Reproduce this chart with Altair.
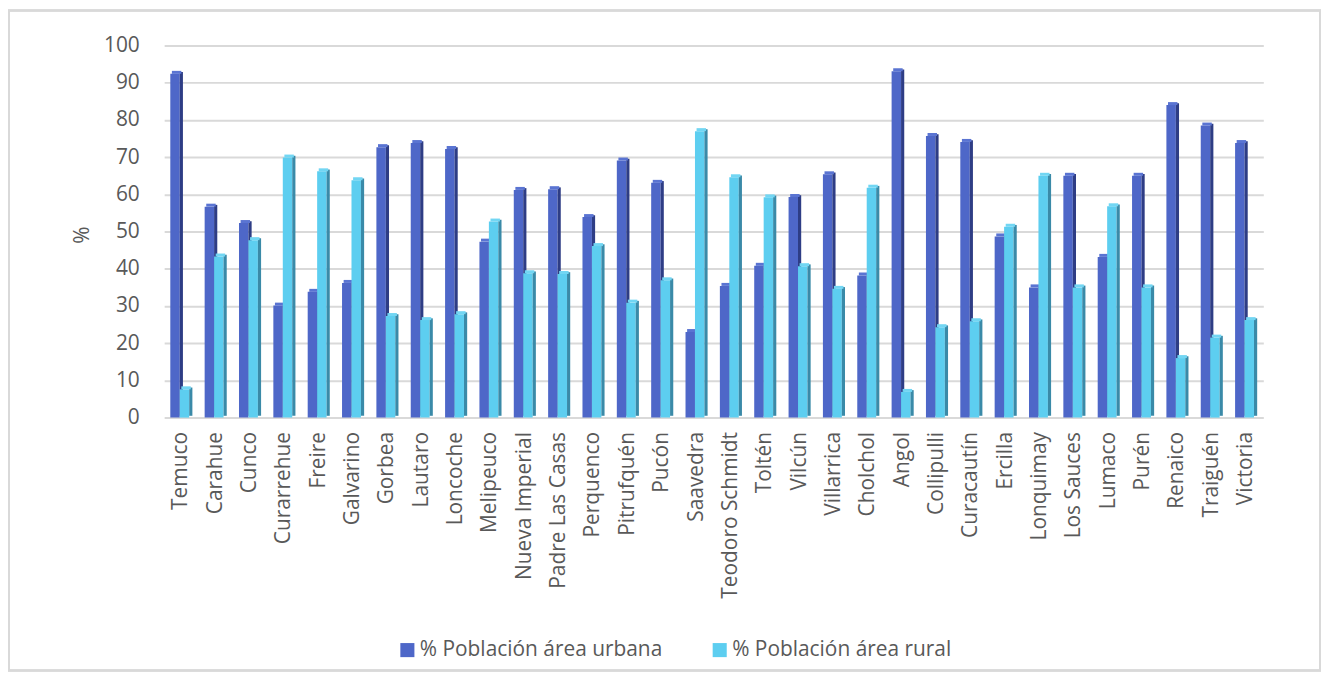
import altair as alt
import pandas as pd

comunas = ["Temuco", "Carahue", "Cunco", "Curarrehue", "Freire", "Galvarino", "Gorbea",
           "Lautaro", "Loncoche", "Melipeuco", "Nueva Imperial", "Padre Las Casas",
           "Perquenco", "Pitrufquén", "Pucón", "Saavedra", "Teodoro Schmidt", "Toltén",
           "Vilcún", "Villarrica", "Cholchol", "Angol", "Collipulli", "Curacautín",
           "Ercilla", "Lonquimay", "Los Sauces", "Lumaco", "Purén", "Renaico",
           "Traiguén", "Victoria"]
urbana = [92.4, 56.7, 52.3, 30.1, 33.8, 36.2, 72.7, 73.8, 72.2, 47.3, 61.2, 61.4,
          53.9, 69.1, 63.1, 23.0, 35.4, 40.8, 59.3, 65.4, 38.2, 93.1, 75.7, 74.1,
          48.7, 35.0, 65.0, 43.2, 65.0, 84.0, 78.5, 73.8]
rural = [7.6, 43.3, 47.7, 69.9, 66.2, 63.8, 27.3, 26.2, 27.8, 52.7, 38.8, 38.6,
         46.1, 30.9, 36.9, 77.0, 64.6, 59.2, 40.7, 34.6, 61.8, 6.9, 24.3, 25.9,
         51.3, 65.0, 35.0, 56.8, 35.0, 16.0, 21.5, 26.2]
series = ["% Población área urbana", "% Población área rural"]
front_colors = ["#4E67C8", "#5DCEF0"]
side_colors = ["#2E3D85", "#3A8AA8"]
top_colors = ["#5A74D2", "#72D6F3"]

n = min(len(comunas), len(urbana), len(rural))
df_u = pd.DataFrame({"comuna": comunas[:n], "valor": urbana[:n], "serie": series[0]})
df_r = pd.DataFrame({"comuna": comunas[:n], "valor": rural[:n], "serie": series[1]})

FONT = "Open Sans"
TXT = "#595959"
FS = 21
W, H = 1105, 374
PAD_L, PAD_T = 157, 36
TOT_W, TOT_H = 1320, 665

x_enc = alt.X("comuna:N", sort=comunas[:n], title=None,
              scale=alt.Scale(paddingInner=0.47, paddingOuter=0.235),
              axis=alt.Axis(labelAngle=-90, labelFontSize=FS, labelColor=TXT,
                            labelFont=FONT, labelPadding=14, ticks=False,
                            domain=False, grid=False, labelAlign="right",
                            labelBaseline="middle", labelOverlap=False))
y_scale = alt.Scale(domain=[0, 100], nice=False)
y_enc = alt.Y("valor:Q", scale=y_scale, title="%",
              axis=alt.Axis(values=list(range(0, 101, 10)), labelFontSize=FS,
                            labelColor=TXT, labelFont=FONT, labelPadding=25,
                            ticks=False, domain=False, grid=True,
                            gridColor="#D9D9D9", gridWidth=2, labelOverlap=False,
                            titleFont=FONT, titleFontSize=FS,
                            titleFontWeight="normal", titleColor=TXT,
                            titleAngle=-90, titleX=-72, titleY=190))

color_enc = alt.Color("serie:N", scale=alt.Scale(domain=series, range=front_colors),
                      title=None,
                      legend=alt.Legend(orient="none", direction="horizontal",
                                        legendX=234, legendY=597,
                                        symbolType="square", symbolSize=200,
                                        symbolStrokeWidth=0, labelFontSize=FS,
                                        labelFont=FONT, labelColor=TXT,
                                        labelOffset=2, columnPadding=47,
                                        labelLimit=400))

def layers(d, i, front_off):
    front = alt.Chart(d).mark_bar(width=9.5, xOffset=front_off).encode(
        x=x_enc, y=y_enc, color=color_enc)
    side = alt.Chart(d).mark_bar(width=3.2, xOffset=front_off + 6.35,
                                 yOffset=-1.8, color=side_colors[i]).encode(
        x=x_enc, y=y_enc)
    top = alt.Chart(d).mark_tick(thickness=3, size=9.5, xOffset=front_off + 1.6,
                                 yOffset=-1.5, color=top_colors[i],
                                 opacity=1).encode(
        x=x_enc, y=y_enc)
    return [front, side, top]

frame = alt.Chart(df_u).mark_rect(fill=None, stroke="#D9D9D9", strokeWidth=1.5).encode(
    x=alt.value(-PAD_L + 0.75), x2=alt.value(TOT_W - PAD_L - 0.75),
    y=alt.value(-PAD_T + 0.75), y2=alt.value(TOT_H - PAD_T - 0.75))

chart = alt.layer(
    frame,
    *layers(df_u, 0, -6.35),
    *layers(df_r, 1, 3.15),
).properties(
    width=W, height=H,
    autosize=alt.AutoSizeParams(type="none"),
    padding={"left": PAD_L, "top": PAD_T, "right": TOT_W - PAD_L - W,
             "bottom": TOT_H - PAD_T - H},
    background="white",
).configure_view(stroke=None)

chart.save("out.html", embed_options={"renderer": "svg", "actions": False})
